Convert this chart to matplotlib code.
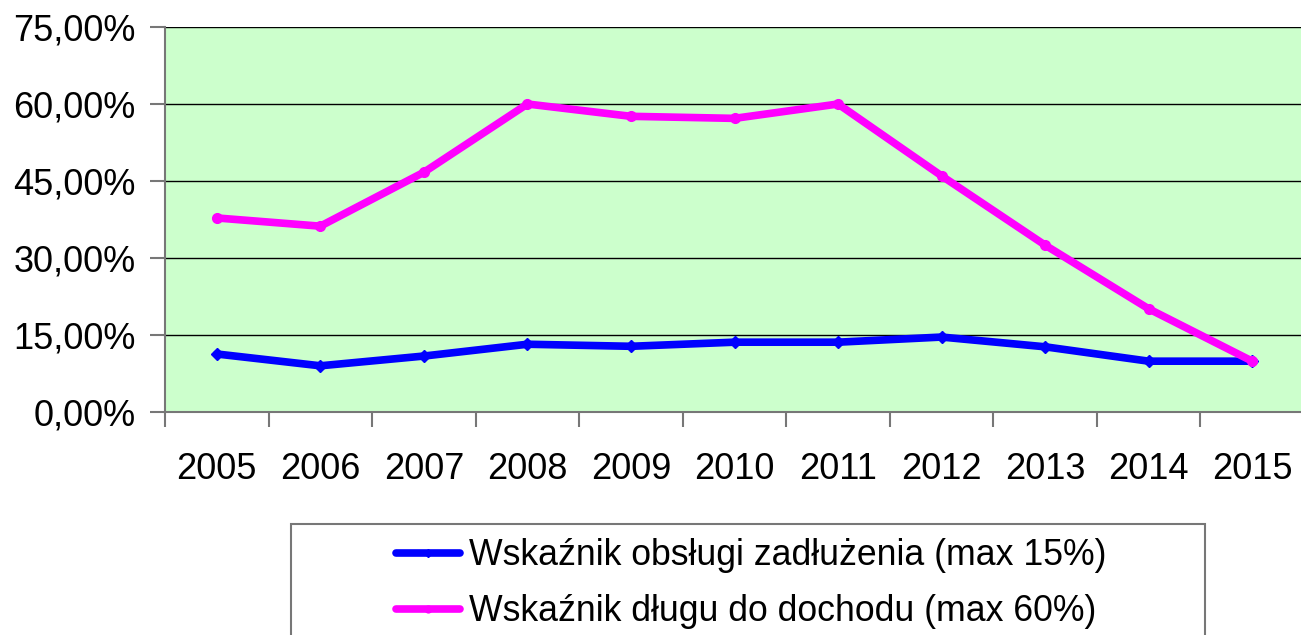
import matplotlib.pyplot as plt
from matplotlib.patches import Rectangle
from matplotlib.ticker import FuncFormatter, FixedLocator

plt.rcParams['font.family'] = ['Liberation Sans', 'DejaVu Sans']

years = ["2005", "2006", "2007", "2008", "2009", "2010",
         "2011", "2012", "2013", "2014", "2015"]
obsluga = [11.3, 9.0, 10.9, 13.2, 12.8, 13.6, 13.6, 14.6, 12.7, 9.9, 9.9]
dlug = [37.8, 36.2, 46.7, 60.0, 57.6, 57.2, 60.0, 46.0, 32.5, 20.1, 9.9]
labels = ["Wskaźnik obsługi zadłużenia (max 15%)",
          "Wskaźnik długu do dochodu (max 60%)"]

W, H = 1301, 635
fig = plt.figure(figsize=(W / 100, H / 100), dpi=100)
ax = fig.add_axes([165 / W, 1 - 412 / H, 1139 / W, 385 / H])
ax.set_facecolor("#CCFFCC")

x = range(len(years))
l1, = ax.plot(x, obsluga, color="#0000FF", lw=5.5, marker="D", ms=6,
              solid_capstyle="round")
l2, = ax.plot(x, dlug, color="#FF00FF", lw=5.5, marker="o", ms=7,
              solid_capstyle="round")

ax.set_xlim(-0.5, len(years) - 0.5)
ax.set_ylim(0, 75)
ax.set_yticks([0, 15, 30, 45, 60, 75])
ax.yaxis.set_major_formatter(FuncFormatter(lambda v, p: f"{v:.2f}%".replace(".", ",")))
ax.grid(axis="y", color="black", lw=1)
ax.set_axisbelow(True)

ax.set_xticks(list(x))
ax.set_xticklabels(years)
ax.xaxis.set_minor_locator(FixedLocator([i - 0.5 for i in range(len(years) + 1)]))
ax.tick_params(axis="x", which="major", length=0, pad=29, labelsize=26)
ax.tick_params(axis="x", which="minor", length=11, width=1.5, color="#777777")
ax.tick_params(axis="y", length=11, width=1.5, color="#777777", pad=10, labelsize=26)

for s in ["top", "right"]:
    ax.spines[s].set_visible(False)
ax.spines["left"].set_color("#777777")
ax.spines["left"].set_linewidth(1.5)
ax.spines["bottom"].set_color("#777777")
ax.spines["bottom"].set_linewidth(1.5)

fig.patches.append(Rectangle((291 / W, -0.05), 914 / W, 0.05 + (635 - 524) / H,
                             transform=fig.transFigure, fill=False,
                             edgecolor="#777777", lw=1.5))
fig.legend([l1, l2], labels, loc="upper left", frameon=False,
           bbox_to_anchor=(396 / W, 1 - 538 / H), borderaxespad=0, borderpad=0,
           fontsize=25.7, handlelength=1.8, handletextpad=0.25,
           labelspacing=0.6, numpoints=1, markerscale=0.7)

fig.savefig("out.png", dpi=100)
